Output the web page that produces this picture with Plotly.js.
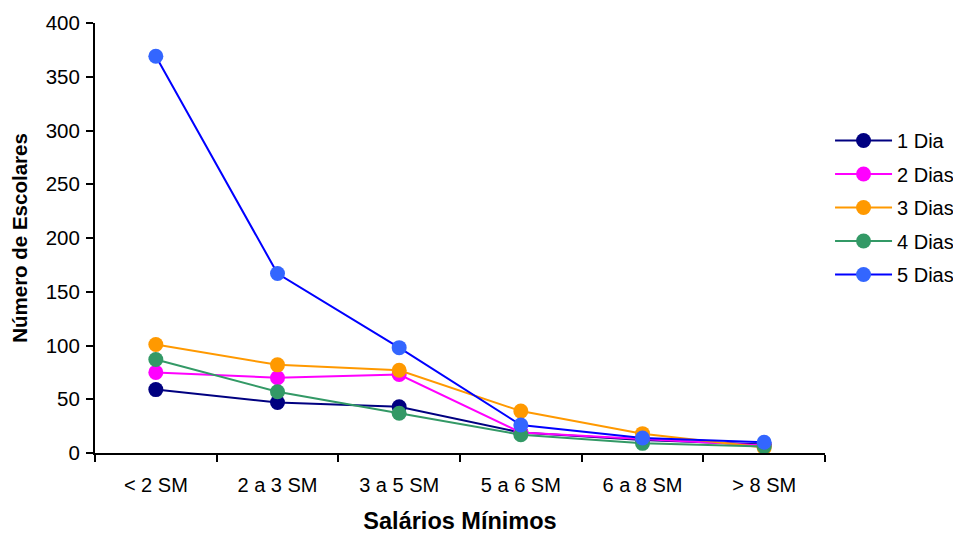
<!DOCTYPE html>
<html>
<head>
<meta charset="utf-8">
<script src="https://cdn.plot.ly/plotly-3.0.1.min.js"></script>
<style>
  html, body { margin: 0; padding: 0; background: #fff; }
  #chart { width: 953px; height: 534px; }
</style>
</head>
<body>
<div id="chart"></div>
<script>
// Income bands (minimum wages)
const categories = ['< 2 SM', '2 a 3 SM', '3 a 5 SM', '5 a 6 SM', '6 a 8 SM', '> 8 SM'];

// Number of schoolchildren per band, by days per week
const dia1  = [59, 47, 43, 19, 12, 8];
const dias2 = [75, 70, 73, 19, 13, 7];
const dias3 = [101, 82, 77, 39, 18, 5];
const dias4 = [87, 57, 37, 17, 9, 6];
const dias5 = [369, 167, 98, 26, 14, 10];

const seriesNames = ['1 Dia', '2 Dias', '3 Dias', '4 Dias', '5 Dias'];
const seriesValues = [dia1, dias2, dias3, dias4, dias5];
const lineColors = ['#000080', '#FF00FF', '#FF9900', '#339966', '#0000FF'];
const markerColors = ['#000080', '#FF00FF', '#FF9900', '#339966', '#3366FF'];

const traces = seriesNames.map((name, i) => ({
  type: 'scatter',
  mode: 'lines+markers',
  name: name,
  legendgroup: 'g' + i,
  x: categories,
  y: seriesValues[i],
  line: { color: lineColors[i], width: 2 },
  marker: { color: markerColors[i], size: 15 }
}));

const font = 'Liberation Sans, Arial, sans-serif';

const layout = {
  width: 953,
  height: 534,
  margin: { l: 95, r: 128, t: 23, b: 81, autoexpand: false },
  paper_bgcolor: '#fff',
  plot_bgcolor: '#fff',
  font: { family: font, size: 20, color: '#000' },
  showlegend: true,
  legend: {
    x: 1.0069, xanchor: 'left',
    y: 0.772, yanchor: 'top',
    font: { family: font, size: 20, color: '#000' },
    traceorder: 'grouped',
    tracegroupgap: 4.5,
    itemwidth: 57
  },
  xaxis: {
    type: 'category',
    range: [-0.5, 5.5],
    showgrid: false,
    zeroline: false,
    showline: true,
    linecolor: '#000',
    linewidth: 2,
    ticks: 'outside',
    tickson: 'boundaries',
    ticklen: 7,
    tickwidth: 2,
    tickcolor: '#000',
    tickfont: { family: font, size: 20 },
    ticklabelstandoff: 13,
    title: { text: '<b>Salários Mínimos</b>', font: { family: font, size: 23.5 }, standoff: 19 }
  },
  yaxis: {
    range: [0, 400],
    dtick: 50,
    showgrid: false,
    zeroline: false,
    showline: true,
    linecolor: '#000',
    linewidth: 2,
    ticks: 'outside',
    ticklen: 7,
    tickwidth: 2,
    tickcolor: '#000',
    tickfont: { family: font, size: 20.5 },
    ticklabelstandoff: 2,
    title: { text: '<b>Número de Escolares</b>', font: { family: font, size: 20.5 }, standoff: 13 }
  }
};

Plotly.newPlot('chart', traces, layout, { displayModeBar: false, staticPlot: true });
</script>
</body>
</html>
